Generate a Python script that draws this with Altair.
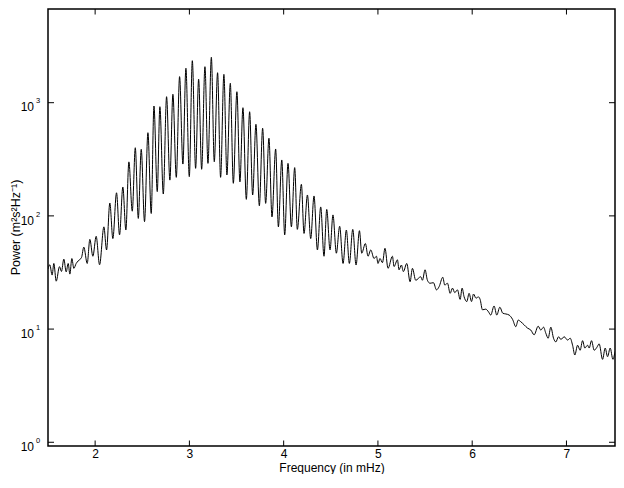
import altair as alt
import pandas as pd

# (frequency in mHz, power), by band
low_band = [
    (1.500, 34), (1.519, 37), (1.544, 30), (1.562, 38), (1.587, 26.5), (1.622, 35.6),
    (1.643, 32.3), (1.668, 41.5), (1.693, 32), (1.714, 38), (1.732, 30.6), (1.753, 42),
    (1.774, 34.4), (1.799, 38), (1.820, 40), (1.856, 43), (1.880, 53), (1.916, 38),
    (1.944, 62), (1.976, 44), (2.011, 66), (2.047, 37), (2.093, 80), (2.121, 50),
    (2.156, 130), (2.188, 63), (2.227, 160), (2.259, 68), (2.294, 180), (2.326, 75),
    (2.358, 300), (2.394, 110), (2.426, 400), (2.458, 95),
]
mode_band = [
    (2.489, 387), (2.524, 89), (2.560, 543), (2.595, 105), (2.624, 935), (2.659, 164),
    (2.687, 922), (2.723, 156), (2.758, 1130), (2.793, 207), (2.825, 1186), (2.861, 219),
    (2.896, 1700), (2.931, 287), (2.963, 2014), (2.999, 222), (3.031, 2350), (3.066, 263),
    (3.098, 1610), (3.130, 258), (3.165, 2080), (3.197, 291), (3.233, 2520), (3.264, 301),
    (3.299, 1840), (3.331, 219), (3.366, 1780), (3.398, 230), (3.434, 1484), (3.466, 194),
    (3.504, 1250), (3.536, 200), (3.568, 903), (3.604, 140), (3.639, 832), (3.671, 153),
    (3.706, 644), (3.742, 123), (3.777, 594), (3.809, 129), (3.844, 485), (3.876, 98),
    (3.915, 390), (3.944, 80), (3.980, 312), (4.011, 68), (4.046, 291), (4.082, 80),
    (4.117, 267), (4.145, 76), (4.188, 190), (4.216, 70), (4.252, 153), (4.287, 63),
    (4.322, 150), (4.358, 50), (4.393, 120), (4.428, 44), (4.457, 114), (4.492, 50),
    (4.523, 102), (4.559, 46.8), (4.594, 81), (4.630, 38), (4.665, 75), (4.697, 38),
    (4.733, 76), (4.768, 36.8), (4.804, 74), (4.828, 46.8), (4.867, 57), (4.895, 44),
]
tail_band = [
    (4.924, 50), (4.959, 42), (4.984, 44), (5.001, 38), (5.022, 42), (5.048, 38.6),
    (5.075, 51.7), (5.107, 34.4), (5.154, 44), (5.171, 35.7), (5.207, 40.9), (5.224, 33.4),
    (5.249, 36.8), (5.270, 32.2), (5.306, 38), (5.341, 26.2), (5.366, 34.4), (5.401, 27),
    (5.454, 29), (5.472, 27), (5.500, 33.4), (5.525, 27), (5.553, 25.4), (5.589, 25.7),
    (5.621, 22.2), (5.649, 23.7), (5.688, 28.7), (5.709, 24.5), (5.738, 25.4), (5.766, 20.7),
    (5.791, 23), (5.815, 21), (5.844, 22.2), (5.872, 18.3), (5.893, 23), (5.914, 19.3),
    (5.943, 17.5), (5.967, 20.7), (5.993, 17.5), (6.014, 20.4), (6.041, 18.7), (6.063, 19.3),
    (6.084, 18.3), (6.109, 14.8), (6.144, 15), (6.173, 14.2), (6.197, 13.3), (6.232, 16),
    (6.261, 13.3), (6.293, 15.6), (6.325, 13.8), (6.357, 13.6), (6.392, 13.3), (6.428, 12.2),
    (6.463, 10.5), (6.488, 12), (6.516, 11.6), (6.551, 10.9), (6.587, 10.2), (6.622, 9.8),
    (6.657, 8.9), (6.700, 10.6), (6.728, 9.8), (6.757, 10.4), (6.781, 9.2), (6.806, 8.3),
    (6.834, 10.4), (6.863, 8.3), (6.887, 7.7), (6.916, 8.55), (6.941, 8.1), (6.976, 8.55),
    (7.012, 8.0), (7.040, 8.3), (7.065, 7.2), (7.089, 5.9), (7.118, 7.2), (7.145, 6.5),
    (7.171, 7.9), (7.195, 6.8), (7.224, 7.2), (7.241, 6.8), (7.266, 7.9), (7.294, 6.5),
    (7.323, 6.9), (7.347, 7.4), (7.383, 5.4), (7.411, 6.8), (7.436, 5.7), (7.464, 6.8),
    (7.493, 5.4), (7.517, 6.3), (7.543, 7.0), (7.567, 7.5), (7.588, 5.9), (7.600, 6.8),
]

x_ticks = [2, 3, 4, 5, 6, 7]
y_ticks = [1, 10, 100, 1000]
y_exponents = ["0", "1", "2", "3"]

df = pd.DataFrame(low_band + mode_band + tail_band, columns=["freq", "power"])
xt = pd.DataFrame({"freq": x_ticks})
yt = pd.DataFrame({"power": y_ticks, "e": y_exponents})

FONT = "Liberation Sans"
W, H = 567, 437
xs = alt.Scale(domain=[1.5, 7.515], nice=False)
ys = alt.Scale(type="log", domain=[0.927, 6726], nice=False)

line = alt.Chart(df).mark_line(
    color="black", strokeWidth=1, interpolate="monotone", clip=True
).encode(
    x=alt.X("freq:Q", scale=xs, axis=alt.Axis(
        values=x_ticks, format="d", ticks=False, domain=False, grid=False,
        labelPadding=2, labelFont=FONT, labelFontSize=12, labelColor="black",
        title="Frequency (in mHz)", titleFont=FONT, titleFontSize=12,
        titleFontWeight="normal", titleColor="black", titleY=25.5,
        titleBaseline="alphabetic")),
    y=alt.Y("power:Q", scale=ys, axis=alt.Axis(
        labels=False, ticks=False, domain=False, grid=False,
        title="Power (m\u00b2s\u00b2Hz\u207b\u00b9)", titleFont=FONT, titleFontSize=12.5,
        titleFontWeight="normal", titleColor="black", titleAngle=270,
        titleX=-28.5, titleY=218, titleBaseline="alphabetic", titleAlign="center")),
)

tick_b = alt.Chart(xt).mark_rule(color="black", strokeWidth=1).encode(
    x=alt.X("freq:Q", scale=xs), y=alt.value(H), y2=alt.value(H - 5.5))
tick_t = alt.Chart(xt).mark_rule(color="black", strokeWidth=1).encode(
    x=alt.X("freq:Q", scale=xs), y=alt.value(0), y2=alt.value(5.5))
tick_l = alt.Chart(yt).mark_rule(color="black", strokeWidth=1).encode(
    y=alt.Y("power:Q", scale=ys), x=alt.value(0), x2=alt.value(6))
tick_r = alt.Chart(yt).mark_rule(color="black", strokeWidth=1).encode(
    y=alt.Y("power:Q", scale=ys), x=alt.value(W), x2=alt.value(W - 6))

lab_base = alt.Chart(yt).mark_text(
    text="10", align="right", baseline="alphabetic", dy=8.8,
    font=FONT, fontSize=12, color="black"
).encode(y=alt.Y("power:Q", scale=ys), x=alt.value(-14))
lab_exp = alt.Chart(yt).mark_text(
    align="left", baseline="alphabetic", dy=0.8,
    font=FONT, fontSize=7.5, color="black"
).encode(y=alt.Y("power:Q", scale=ys), x=alt.value(-12), text="e:N")

chart = alt.layer(line, tick_b, tick_t, tick_l, tick_r, lab_base, lab_exp).properties(
    width=W, height=H,
    padding={"left": 40, "top": 1, "right": 1, "bottom": 28},
    autosize=alt.AutoSizeParams(type="none"),
    background="white",
).configure_view(stroke="black", strokeWidth=1.5)

chart.save("out.html", embed_options={"renderer": "svg", "actions": False})
